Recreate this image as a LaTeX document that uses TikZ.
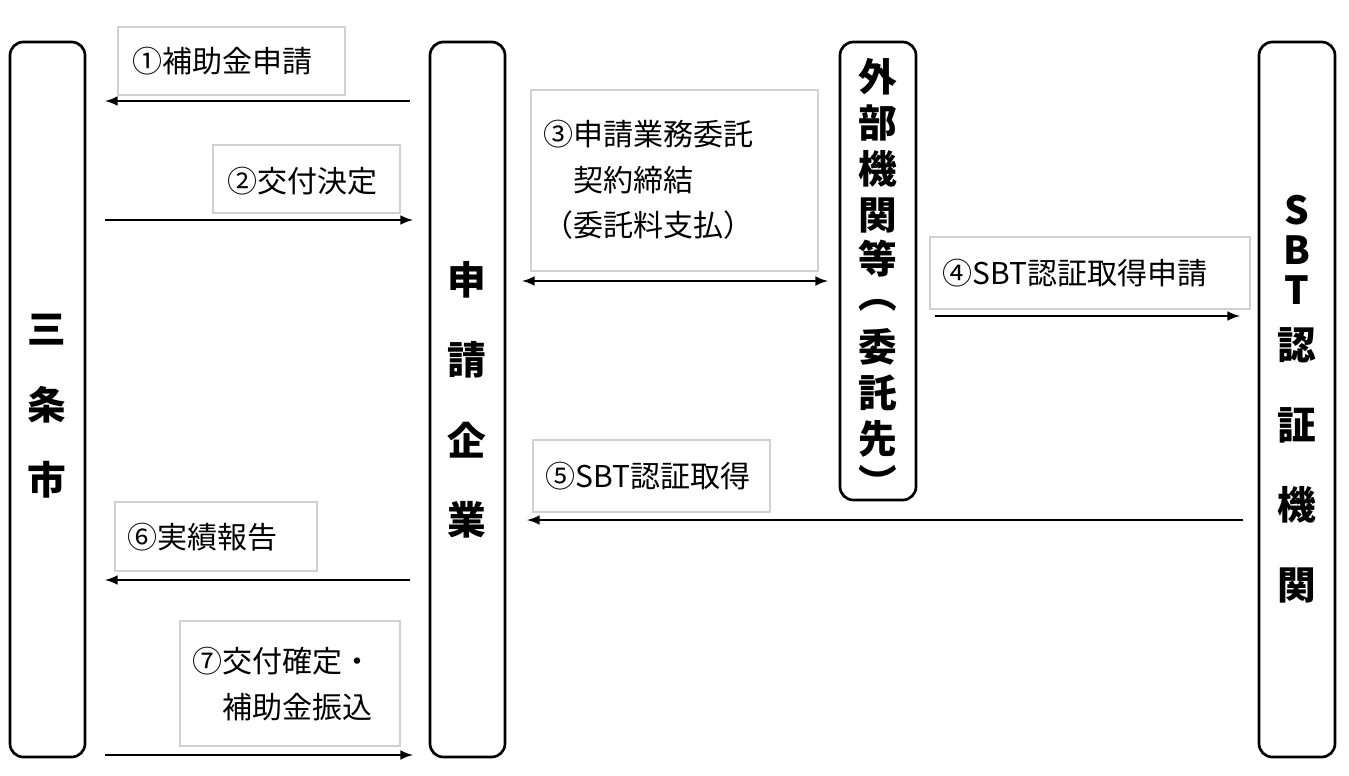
\documentclass[tikz,border=0pt]{standalone}
\usepackage{fontspec}
\setmainfont{Noto Sans CJK JP}
\begin{document}
\begin{tikzpicture}[x=0.75pt,y=-0.75pt,
    pillar/.style={draw,line width=2pt,rounded corners=10pt},
    lbl/.style={draw=black!18,line width=0.8pt,anchor=north west,inner sep=0pt},
    txt/.style={font=\fontsize{22.5}{34}\selectfont,align=left,anchor=west},
    big/.style={font=\fontsize{29}{30}\selectfont\bfseries,inner sep=0pt},
    arr/.style={-latex,line width=2.2pt}]

    \useasboundingbox (0,0) rectangle (1349,775);

    % pillars
    \draw[pillar] (10,42) rectangle (85,757);
    \draw[pillar] (430,42) rectangle (505,757);
    \draw[pillar] (840,42) rectangle (916,500);
    \draw[pillar] (1259,42) rectangle (1335,757);

    \foreach \c/\y [count=\i] in {三/330,条/405,市/480}
      \node[big] (city\i) at (47,\y) {\c};
    \foreach \c/\y [count=\i] in {申/280,請/360,企/440,業/520}
      \node[big] (firm\i) at (467,\y) {\c};
    \foreach \c/\y [count=\i] in {外/77,部/123,機/169,関/215,等/259,︵/305,委/347,託/393,先/439,︶/481}
      \node[big] (ext\i) at (878,\y) {\c};
    \foreach \c/\y [count=\i] in {S/210,B/250,T/290,認/345,証/425,機/505,関/585}
      \node[big] (sbt\i) at (1297,\y) {\c};

    % label boxes
    \draw[lbl] (118,27) rectangle (345,95);
    \node[txt] (l1) at (128,61) {①補助金申請};
    \draw[lbl] (213,145) rectangle (400,213);
    \node[txt] (l2) at (223,181) {②交付決定};
    \draw[lbl] (531,90) rectangle (818,271);
    \node[txt] (l3) at (539,180) {③申請業務委託\\\quad 契約締結\\ （委託料支払）};
    \draw[lbl] (930,237) rectangle (1250,309);
    \node[txt] (l4) at (938,273) {④SBT認証取得申請};
    \draw[lbl] (533,440) rectangle (770,512);
    \node[txt] (l5) at (541,476) {⑤SBT認証取得};
    \draw[lbl] (115,502) rectangle (317,571);
    \node[txt] (l6) at (123,537) {⑥実績報告};
    \draw[lbl] (180,621) rectangle (400,746);
    \node[txt] (l7) at (188,684) {⑦交付確定・\\\quad 補助金振込};

    % arrows
    \coordinate (a1s) at (410,101); \coordinate (a1e) at (105,101);
    \coordinate (a2s) at (105,220); \coordinate (a2e) at (413,220);
    \coordinate (a3s) at (522,281); \coordinate (a3e) at (828,281);
    \coordinate (a4s) at (935,316); \coordinate (a4e) at (1240,316);
    \coordinate (a5s) at (1243,520); \coordinate (a5e) at (527,520);
    \coordinate (a6s) at (410,580); \coordinate (a6e) at (105,580);
    \coordinate (a7s) at (105,755); \coordinate (a7e) at (413,755);
    \draw[arr] (a1s) -- (a1e);
    \draw[arr] (a2s) -- (a2e);
    \draw[latex-latex,line width=2.2pt] (a3s) -- (a3e);
    \draw[arr] (a4s) -- (a4e);
    \draw[arr] (a5s) -- (a5e);
    \draw[arr] (a6s) -- (a6e);
    \draw[arr] (a7s) -- (a7e);
\end{tikzpicture}
\end{document}
